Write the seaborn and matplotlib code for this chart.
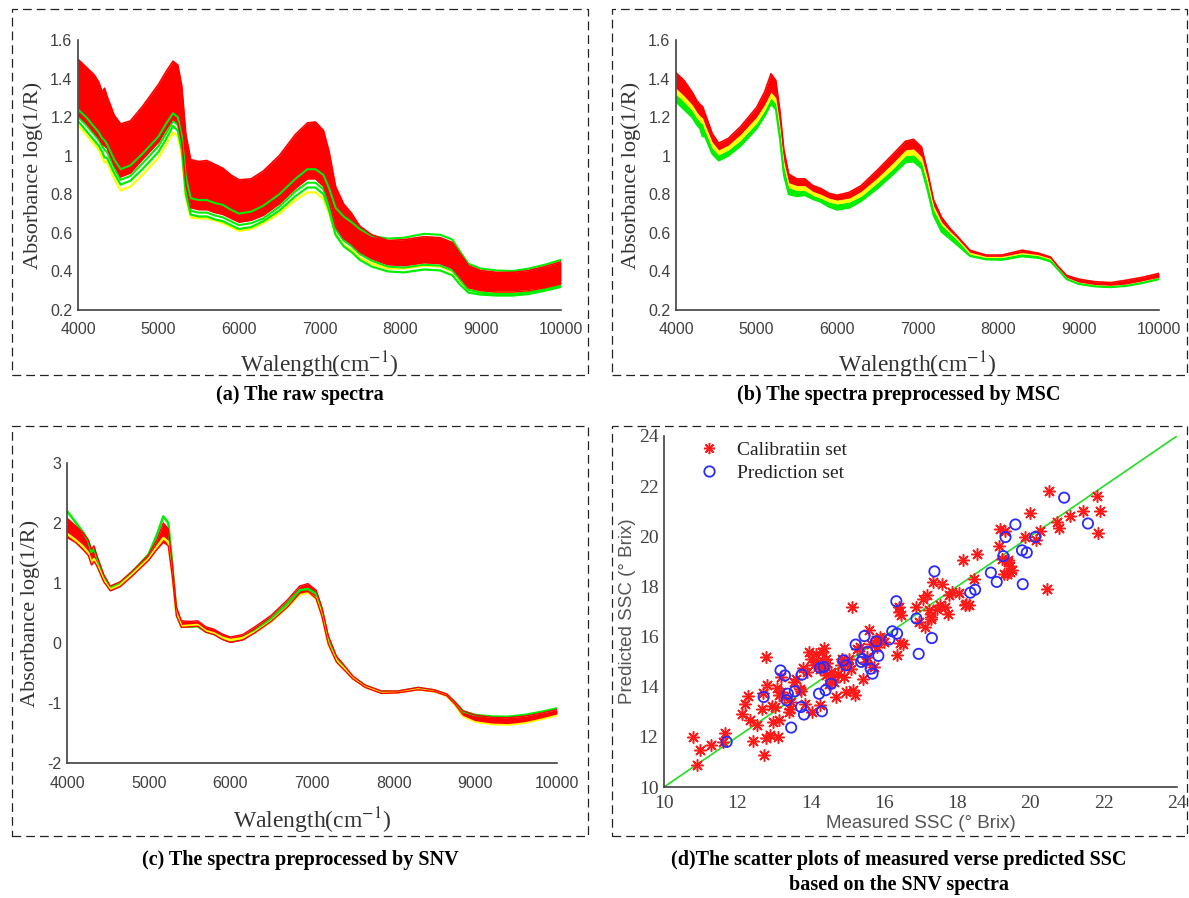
import matplotlib
matplotlib.use("Agg")
import matplotlib.pyplot as plt
import seaborn as sns
from matplotlib.patches import Rectangle
from matplotlib.lines import Line2D
from matplotlib.ticker import FuncFormatter

# wavenumber anchors (cm-1), shared by the three spectra panels
WN = [4000, 4100, 4200, 4260, 4300, 4330, 4360, 4450, 4530, 4650,
      4800, 5000, 5100, 5180, 5240, 5290, 5340, 5400, 5500, 5600,
      5700, 5800, 5900, 6000, 6150, 6300, 6500, 6700, 6850, 6950,
      7050, 7120, 7200, 7300, 7400, 7500, 7650, 7850, 8050, 8300,
      8500, 8650, 8750, 8850, 9000, 9200, 9400, 9600, 9800, 10000]

# (a) raw spectra
RAW_RED_TOP = [1.50, 1.46, 1.42, 1.38, 1.33, 1.35, 1.31, 1.21, 1.165, 1.18,
               1.255, 1.37, 1.44, 1.49, 1.47, 1.36, 1.11, 0.98, 0.97, 0.975,
               0.955, 0.935, 0.90, 0.875, 0.88, 0.92, 1.00, 1.11, 1.17, 1.175,
               1.13, 1.02, 0.84, 0.75, 0.70, 0.635, 0.59, 0.56, 0.565, 0.58,
               0.575, 0.55, 0.49, 0.43, 0.405, 0.395, 0.395, 0.405, 0.425, 0.45]
RAW_RED_LOW = [1.21, 1.17, 1.12, 1.09, 1.06, 1.05, 1.04, 0.95, 0.89, 0.91,
               0.98, 1.07, 1.14, 1.19, 1.17, 1.07, 0.85, 0.73, 0.72, 0.72,
               0.705, 0.695, 0.675, 0.655, 0.665, 0.69, 0.75, 0.83, 0.88, 0.88,
               0.84, 0.76, 0.63, 0.57, 0.54, 0.50, 0.465, 0.435, 0.43, 0.445,
               0.44, 0.415, 0.365, 0.315, 0.30, 0.293, 0.293, 0.30, 0.315, 0.335]
RAW_YELLOW_LOW = [1.16, 1.11, 1.06, 1.03, 0.99, 0.965, 0.97, 0.88, 0.82, 0.84,
                  0.90, 0.99, 1.06, 1.12, 1.10, 1.00, 0.78, 0.68, 0.675, 0.675,
                  0.665, 0.65, 0.63, 0.61, 0.62, 0.65, 0.70, 0.77, 0.81, 0.81,
                  0.775, 0.70, 0.59, 0.535, 0.51, 0.47, 0.44, 0.415, 0.415, 0.43,
                  0.425, 0.40, 0.35, 0.305, 0.295, 0.29, 0.29, 0.298, 0.31, 0.33]
RAW_GREEN_LOW = [1.18, 1.13, 1.08, 1.05, 1.02, 0.99, 0.99, 0.91, 0.85, 0.87,
                 0.93, 1.02, 1.09, 1.155, 1.13, 1.03, 0.80, 0.695, 0.685, 0.685,
                 0.67, 0.66, 0.64, 0.62, 0.63, 0.66, 0.715, 0.79, 0.835, 0.835,
                 0.80, 0.715, 0.59, 0.53, 0.50, 0.46, 0.425, 0.40, 0.395, 0.41,
                 0.405, 0.38, 0.33, 0.29, 0.28, 0.275, 0.275, 0.283, 0.30, 0.32]
RAW_GREEN_MID = [1.20, 1.16, 1.11, 1.08, 1.05, 1.03, 1.02, 0.94, 0.875, 0.895,
                 0.96, 1.05, 1.12, 1.18, 1.16, 1.06, 0.83, 0.715, 0.705, 0.705,
                 0.69, 0.68, 0.66, 0.64, 0.65, 0.675, 0.735, 0.815, 0.86, 0.86,
                 0.825, 0.745, 0.62, 0.56, 0.53, 0.49, 0.455, 0.425, 0.42, 0.435,
                 0.43, 0.405, 0.355, 0.305, 0.29, 0.284, 0.284, 0.292, 0.308, 0.328]
RAW_GREEN_TOP = [1.24, 1.20, 1.15, 1.12, 1.09, 1.08, 1.06, 0.98, 0.93, 0.95,
                 1.01, 1.10, 1.17, 1.22, 1.20, 1.10, 0.89, 0.78, 0.77, 0.77,
                 0.755, 0.745, 0.72, 0.70, 0.71, 0.74, 0.80, 0.88, 0.93, 0.93,
                 0.90, 0.83, 0.73, 0.685, 0.655, 0.62, 0.585, 0.57, 0.575, 0.595,
                 0.59, 0.565, 0.50, 0.44, 0.415, 0.405, 0.402, 0.415, 0.435, 0.46]

# (b) MSC spectra
MSC_RED_TOP = [1.43, 1.39, 1.33, 1.285, 1.265, 1.255, 1.22, 1.115, 1.065, 1.09,
               1.15, 1.25, 1.33, 1.425, 1.39, 1.235, 1.03, 0.905, 0.88, 0.88,
               0.845, 0.83, 0.805, 0.795, 0.81, 0.845, 0.925, 1.01, 1.075, 1.085,
               1.045, 0.925, 0.77, 0.68, 0.625, 0.58, 0.51, 0.485, 0.485, 0.51,
               0.495, 0.475, 0.425, 0.38, 0.36, 0.347, 0.342, 0.355, 0.37, 0.39]
MSC_RED_LOW = [1.35, 1.31, 1.265, 1.225, 1.205, 1.195, 1.16, 1.07, 1.03, 1.055,
               1.11, 1.20, 1.265, 1.33, 1.30, 1.16, 0.97, 0.86, 0.845, 0.845,
               0.815, 0.80, 0.78, 0.77, 0.78, 0.815, 0.885, 0.965, 1.03, 1.035,
               0.995, 0.89, 0.74, 0.655, 0.61, 0.57, 0.50, 0.478, 0.478, 0.498,
               0.487, 0.468, 0.418, 0.37, 0.345, 0.332, 0.328, 0.335, 0.352, 0.37]
MSC_YELLOW = [1.32, 1.28, 1.235, 1.195, 1.175, 1.165, 1.13, 1.04, 1.005, 1.03,
              1.08, 1.17, 1.235, 1.30, 1.27, 1.13, 0.945, 0.835, 0.82, 0.82,
              0.795, 0.78, 0.76, 0.75, 0.76, 0.79, 0.86, 0.935, 1.00, 1.005,
              0.965, 0.86, 0.72, 0.64, 0.60, 0.56, 0.49, 0.472, 0.472, 0.492,
              0.482, 0.463, 0.415, 0.368, 0.342, 0.33, 0.326, 0.333, 0.35, 0.368]
MSC_GREEN = [1.28, 1.24, 1.20, 1.16, 1.14, 1.10, 1.10, 1.01, 0.975, 1.0,
             1.05, 1.14, 1.205, 1.27, 1.24, 1.09, 0.90, 0.80, 0.79, 0.795,
             0.775, 0.76, 0.735, 0.72, 0.73, 0.765, 0.83, 0.905, 0.965, 0.97,
             0.935, 0.83, 0.69, 0.605, 0.57, 0.535, 0.48, 0.462, 0.46, 0.478,
             0.47, 0.452, 0.408, 0.36, 0.335, 0.322, 0.318, 0.325, 0.34, 0.36]

# (c) SNV spectra
SNV_RED_TOP = [2.08, 1.96, 1.83, 1.72, 1.56, 1.62, 1.48, 1.14, 0.95, 1.02,
               1.20, 1.47, 1.72, 2.00, 1.90, 1.30, 0.60, 0.37, 0.36, 0.37,
               0.27, 0.23, 0.15, 0.10, 0.14, 0.27, 0.46, 0.72, 0.95, 0.99,
               0.88, 0.60, 0.12, -0.22, -0.38, -0.55, -0.70, -0.80, -0.80, -0.74,
               -0.78, -0.85, -0.98, -1.13, -1.20, -1.24, -1.245, -1.22, -1.17, -1.11]
SNV_RED_LOW = [1.76, 1.68, 1.55, 1.46, 1.30, 1.36, 1.30, 1.02, 0.87, 0.94,
               1.12, 1.38, 1.56, 1.68, 1.62, 1.10, 0.45, 0.26, 0.27, 0.28,
               0.18, 0.14, 0.06, 0.01, 0.05, 0.17, 0.36, 0.60, 0.83, 0.86,
               0.74, 0.45, -0.02, -0.32, -0.46, -0.60, -0.74, -0.84, -0.83, -0.78,
               -0.81, -0.88, -1.02, -1.20, -1.29, -1.33, -1.34, -1.31, -1.25, -1.18]
SNV_GREEN = [2.20, 2.02, 1.84, 1.70, 1.52, 1.58, 1.45, 1.10, 0.92, 0.99,
             1.18, 1.48, 1.80, 2.11, 2.00, 1.30, 0.50, 0.28, 0.27, 0.28,
             0.19, 0.15, 0.08, 0.04, 0.08, 0.20, 0.40, 0.66, 0.88, 0.90,
             0.82, 0.56, 0.05, -0.28, -0.42, -0.57, -0.71, -0.81, -0.81, -0.75,
             -0.79, -0.86, -0.99, -1.14, -1.20, -1.225, -1.23, -1.20, -1.15, -1.09]
SNV_YELLOW = [1.82, 1.72, 1.60, 1.50, 1.34, 1.40, 1.32, 1.04, 0.89, 0.96,
              1.14, 1.40, 1.60, 1.75, 1.68, 1.15, 0.48, 0.28, 0.29, 0.30,
              0.20, 0.16, 0.09, 0.05, 0.08, 0.18, 0.36, 0.60, 0.81, 0.84,
              0.74, 0.47, -0.02, -0.30, -0.44, -0.58, -0.73, -0.83, -0.82, -0.77,
              -0.81, -0.88, -1.03, -1.22, -1.31, -1.35, -1.36, -1.33, -1.27, -1.20]

# (d) measured vs predicted SSC (°Brix)
CAL_X = [10.8, 10.97, 10.9, 11.28, 11.67, 11.6, 12.13, 12.2, 12.28, 12.36,
         12.44, 12.54, 12.7, 12.77, 12.73, 12.67, 12.82, 12.77, 12.9, 12.97,
         13.03, 13.13, 13.08, 13.1, 13.18, 13.28, 13.4, 13.47, 13.54, 13.74,
         13.79, 13.85, 13.9, 13.95, 14.0, 14.05, 14.1, 14.2, 14.26, 14.31,
         14.36, 14.41, 14.41, 14.51, 14.7, 14.82, 14.87, 14.97, 15.13, 15.15,
         15.21, 15.28, 15.44, 15.59, 15.72, 15.79, 15.9, 16.36, 16.41, 16.46,
         16.51, 16.87, 16.97, 17.08, 17.13, 17.18, 17.23, 17.28, 17.33, 17.44,
         17.54, 17.59, 17.67, 17.74, 17.79, 17.85, 18.05, 18.15, 18.21, 18.31,
         18.46, 18.54, 19.13, 19.18, 19.23, 19.28, 19.38, 19.44, 19.49, 19.85,
         20.0, 20.15, 20.26, 20.46, 20.51, 20.72, 20.77, 21.08, 21.44, 21.82,
         21.85, 21.9, 14.15, 14.25, 14.3, 14.45, 14.55, 14.6, 14.65, 14.75,
         14.9, 15.0, 15.05, 15.1, 15.35, 15.5, 15.55, 15.65, 15.8, 15.95,
         16.0, 13.6, 13.7, 13.45, 12.95, 13.15, 19.3, 19.35, 19.45, 19.4,
         16.45, 16.4, 17.3, 18.25, 13.2, 14.35]
CAL_Y = [12.0, 11.46, 10.86, 11.66, 12.15, 11.8, 12.9, 13.3, 13.63, 12.66,
         11.82, 12.49, 13.76, 15.19, 11.29, 13.12, 14.06, 11.95, 12.06, 12.6,
         13.2, 12.69, 13.95, 12.0, 14.39, 13.59, 12.99, 13.39, 14.19, 13.82,
         14.75, 13.32, 14.59, 15.39, 15.12, 12.99, 14.85, 14.99, 13.26, 15.39,
         15.55, 15.12, 14.45, 14.12, 13.59, 14.85, 15.12, 13.79, 17.18, 13.86,
         13.66, 15.52, 14.32, 16.25, 14.79, 15.85, 15.98, 15.25, 17.18, 16.85,
         15.72, 17.18, 16.58, 17.51, 16.38, 17.64, 17.05, 16.72, 18.18, 17.11,
         17.25, 18.09, 17.18, 16.91, 17.64, 17.78, 17.75, 19.04, 17.25, 17.27,
         18.31, 19.31, 19.61, 20.31, 19.11, 18.51, 18.98, 18.58, 18.64, 19.97,
         20.94, 19.84, 20.2, 17.89, 21.8, 20.57, 20.33, 20.81, 21.0, 21.61,
         20.15, 21.0, 15.3, 14.7, 14.9, 14.95, 14.6, 14.4, 14.2, 14.5,
         14.4, 14.9, 15.1, 14.7, 15.6, 15.0, 15.2, 15.7, 15.6, 15.9,
         15.8, 14.3, 13.9, 13.1, 13.25, 13.65, 20.2, 18.5, 18.8, 19.05,
         15.75, 17.0, 16.8, 17.3, 13.8, 14.75]
PRED_X = [11.71, 12.72, 13.18, 13.3, 13.38, 13.35, 13.47, 13.57, 13.76, 13.74,
          13.82, 14.23, 14.26, 14.31, 14.36, 14.41, 14.56, 14.9, 14.97, 15.23,
          15.38, 15.42, 15.47, 15.56, 15.64, 15.69, 15.85, 15.79, 16.15, 16.23,
          16.36, 16.34, 16.89, 16.95, 17.31, 17.38, 18.36, 18.49, 18.92, 19.08,
          19.26, 19.32, 19.59, 19.77, 19.9, 19.79, 20.13, 20.92, 21.57]
PRED_Y = [11.8, 13.59, 14.65, 14.45, 13.72, 13.46, 12.37, 13.82, 14.48, 13.19,
          12.89, 13.72, 14.75, 13.02, 14.79, 13.86, 14.12, 15.05, 14.85, 15.68,
          14.99, 15.1, 16.02, 15.39, 14.72, 14.52, 15.23, 15.81, 15.89, 16.21,
          16.12, 17.41, 16.72, 15.31, 15.94, 18.6, 17.75, 17.87, 18.55, 18.18,
          19.21, 19.97, 20.47, 19.44, 19.35, 18.09, 19.97, 21.54, 20.51]
FIT_LINE = [10, 24]

RED, YELLOW, GREEN = "#ff0000", "#ffff00", "#00ee00"
GRAY = "#404040"
SERIF = "Liberation Serif"
SANS = "Liberation Sans"

sns.set_theme(style="white")
plt.rcParams["font.family"] = [SERIF, "DejaVu Serif"]
plt.rcParams["mathtext.fontset"] = "stix"
plt.rcParams["axes.unicode_minus"] = False

W, H = 1189, 898
fig = plt.figure(figsize=(W / 100, H / 100), dpi=100)


def px_axes(left, top, right, bottom):
    return fig.add_axes([left / W, 1 - bottom / H, (right - left) / W, (bottom - top) / H])


def frame(left, top, right, bottom):
    fig.patches.append(Rectangle((left / W, 1 - bottom / H), (right - left) / W, (bottom - top) / H,
                                 transform=fig.transFigure, fill=False, ec="#222222",
                                 lw=0.9, ls=(0, (7, 4))))


def style_axes(ax, tick_family, tick_size):
    sns.despine(ax=ax)
    for s in ("left", "bottom"):
        ax.spines[s].set_color(GRAY)
        ax.spines[s].set_linewidth(1.2)
    ax.tick_params(direction="in", length=4, width=1, color=GRAY, labelcolor=GRAY,
                   labelsize=tick_size)
    for lab in ax.get_xticklabels() + ax.get_yticklabels():
        lab.set_family(tick_family)


def style_spectrum(ax, ylim, yticks, xpad):
    ax.set_xlim(4000, 10000)
    ax.set_ylim(*ylim)
    ax.set_xticks(range(4000, 10001, 1000))
    ax.set_yticks(yticks)
    ax.yaxis.set_major_formatter(FuncFormatter(lambda v, p: f"{v:g}"))
    style_axes(ax, SANS, 11.5)
    ax.tick_params(axis="x", pad=9)
    ax.tick_params(axis="y", pad=4)
    ax.set_xlabel("Walength(cm$^{-1}$)", fontsize=17, color="#333333", labelpad=xpad)
    ax.set_ylabel("Absorbance log(1/R)", fontsize=16, color="#333333", labelpad=5)


def draw_lines(ax, curves):
    for vals, color, lw in curves:
        sns.lineplot(x=WN, y=vals, color=color, lw=lw, ax=ax)


# (a) raw spectra
ax_a = px_axes(78, 40, 561, 310)
draw_lines(ax_a, [(RAW_GREEN_TOP, GREEN, 1.5), (RAW_YELLOW_LOW, YELLOW, 1.6),
                  (RAW_GREEN_LOW, GREEN, 1.6), (RAW_GREEN_MID, GREEN, 1.5)])
ax_a.fill_between(WN, RAW_RED_LOW, RAW_RED_TOP, color=RED, lw=0)
draw_lines(ax_a, [(RAW_RED_TOP, RED, 1.2), (RAW_RED_LOW, RED, 1.0)])
style_spectrum(ax_a, (0.2, 1.6), [0.2, 0.4, 0.6, 0.8, 1.0, 1.2, 1.4, 1.6], 9)

# (b) MSC
ax_b = px_axes(676, 40, 1159, 310)
ax_b.fill_between(WN, MSC_GREEN, MSC_YELLOW, color=GREEN, lw=0)
ax_b.fill_between(WN, MSC_YELLOW, MSC_RED_LOW, color=YELLOW, lw=0)
ax_b.fill_between(WN, MSC_RED_LOW, MSC_RED_TOP, color=RED, lw=0)
draw_lines(ax_b, [(MSC_GREEN, GREEN, 1.4), (MSC_RED_TOP, RED, 1.2)])
style_spectrum(ax_b, (0.2, 1.6), [0.2, 0.4, 0.6, 0.8, 1.0, 1.2, 1.4, 1.6], 9)

# (c) SNV
ax_c = px_axes(67, 463, 557, 763)
draw_lines(ax_c, [(SNV_GREEN, GREEN, 1.8), (SNV_YELLOW, YELLOW, 1.8)])
ax_c.fill_between(WN, SNV_RED_LOW, SNV_RED_TOP, color=RED, lw=0)
draw_lines(ax_c, [(SNV_RED_TOP, RED, 1.0), (SNV_RED_LOW, RED, 1.0)])
style_spectrum(ax_c, (-2, 3), [-2, -1, 0, 1, 2, 3], 11)

# (d) scatter
ax_d = px_axes(664, 436, 1177, 787)
sns.lineplot(x=FIT_LINE, y=FIT_LINE, color="#22dd22", lw=1.2, ax=ax_d)
sns.scatterplot(x=CAL_X, y=CAL_Y, marker=(8, 2, 0), s=70, color="#ff1a1a",
                linewidth=1.1, ax=ax_d, zorder=3)
sns.scatterplot(x=PRED_X, y=PRED_Y, marker="o", s=55, color="#2a2aff",
                linewidth=1.3, ax=ax_d, zorder=4)
ax_d.collections[-1].set_facecolor("none")
ax_d.collections[-1].set_edgecolor("#2a2aff")
ax_d.set_xlim(10, 24)
ax_d.set_ylim(10, 24)
ax_d.set_xticks(range(10, 25, 2))
ax_d.set_yticks(range(10, 25, 2))
style_axes(ax_d, SERIF, 14)
ax_d.tick_params(axis="x", pad=6)
ax_d.tick_params(axis="y", pad=4)
ax_d.set_xlabel("Measured SSC (° Brix)", family=SANS, fontsize=13.5, color="#555555", labelpad=2)
ax_d.set_ylabel("Predicted SSC (° Brix)", family=SANS, fontsize=13.5, color="#555555", labelpad=2)
handles = [Line2D([], [], ls="none", marker=(8, 2, 0), ms=8, mec="#ff1a1a", mew=1.1),
           Line2D([], [], ls="none", marker="o", ms=7.5, mfc="none", mec="#2a2aff", mew=1.3)]
ax_d.legend(handles, ["Calibratiin set", "Prediction set"], loc="upper left",
            bbox_to_anchor=(0.068, 0.985), frameon=False, handlelength=1.0,
            handletextpad=0.95, labelspacing=0.28, borderaxespad=0, borderpad=0,
            prop={"family": SERIF, "size": 14}, labelcolor="#222222")

# dashed frames
frame(12, 9, 588, 375)
frame(612, 9, 1187, 375)
frame(12, 426, 588, 836)
frame(612, 426, 1187, 836)

# captions
cap = dict(ha="center", va="center", fontsize=14.5, fontweight="bold", color="black")
fig.text(300 / W, 1 - 395 / H, "(a) The raw spectra", **cap)
fig.text(899 / W, 1 - 395 / H, "(b) The spectra preprocessed by MSC", **cap)
fig.text(300 / W, 1 - 860 / H, "(c) The spectra preprocessed by SNV", **cap)
fig.text(899 / W, 1 - 860 / H, "(d)The scatter plots of measured verse predicted SSC", **cap)
fig.text(899 / W, 1 - 885 / H, "based on the SNV spectra", **cap)

fig.savefig("out.png", dpi=100)
